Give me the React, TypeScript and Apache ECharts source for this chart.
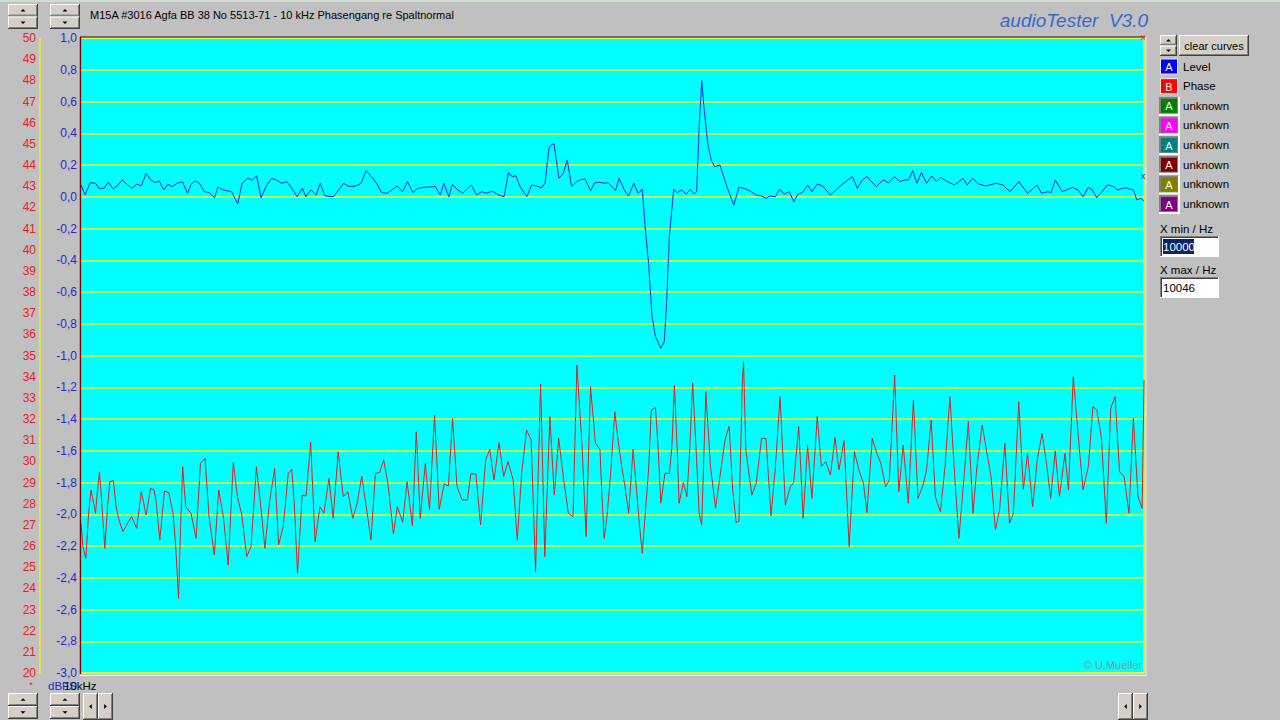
import React, { useEffect, useRef } from "react";
import * as echarts from "echarts";

const TITLE = "M15A #3016 Agfa BB 38 No 5513-71 - 10 kHz Phasengang re Spaltnormal";
const BRAND = "audioTester  V3.0";
const COPYRIGHT = "\u00A9 U.Mueller";
const F_START = 10000;
const F_END = 10046;
const LEVEL_MIN = -3;
const LEVEL_MAX = 1;
const LEVEL_STEP = 0.2;
const DB_MIN = 20;
const DB_MAX = 50;
const DB_STEP = 1;

// Level curve (blue): frequency offset in Hz from 10000, value
const levelHz = [
  0.00, 0.18, 0.40, 0.63, 0.78, 1.00, 1.18, 1.40, 1.60, 1.78,
  2.00, 2.19, 2.42, 2.61, 2.82, 3.02, 3.21, 3.39, 3.58, 3.76,
  3.95, 4.16, 4.39, 4.61, 4.76, 4.95, 5.15, 5.33, 5.55, 5.78,
  5.92, 6.15, 6.52, 6.78, 6.97, 7.22, 7.42, 7.60, 7.79, 8.01,
  8.24, 8.46, 8.68, 8.91, 9.13, 9.35, 9.58, 9.73, 9.95, 10.18,
  10.35, 10.55, 10.92, 11.15, 11.37, 11.60, 11.89, 12.12, 12.34, 12.57,
  12.79, 13.01, 13.24, 13.46, 13.68, 13.91, 14.13, 14.36, 14.58, 14.88,
  15.33, 15.55, 15.70, 15.92, 16.07, 16.30, 16.52, 16.74, 16.89, 17.12,
  17.34, 17.56, 17.79, 18.09, 18.31, 18.50, 18.65, 18.82, 19.00, 19.29,
  19.50, 19.72, 19.93, 20.08, 20.25, 20.37, 20.47, 20.68, 20.87, 21.04,
  21.23, 21.45, 21.59, 21.81, 22.05, 22.24, 22.46, 22.67, 22.82, 23.13,
  23.28, 23.51, 23.70, 23.92, 24.11, 24.29, 24.41, 24.56, 24.71, 24.86,
  25.09, 25.24, 25.34, 25.46, 25.65, 25.80, 25.99, 26.19, 26.37, 26.52,
  26.64, 26.75, 26.86, 26.97, 27.12, 27.27, 27.42, 27.65, 27.95, 28.25,
  28.47, 28.70, 28.93, 29.22, 29.45, 29.64, 29.83, 30.05, 30.23, 30.43,
  30.65, 30.84, 31.03, 31.22, 31.45, 31.63, 31.86, 32.09, 32.43, 32.83,
  33.18, 33.39, 33.59, 33.81, 34.01, 34.41, 34.72, 34.94, 35.21, 35.42,
  35.66, 35.82, 35.99, 36.17, 36.37, 36.59, 36.82, 37.02, 37.19, 37.50,
  37.80, 38.17, 38.35, 38.58, 38.85, 39.15, 39.60, 39.90, 40.20, 40.58,
  40.96, 41.38, 41.56, 41.86, 41.98, 42.16, 42.46, 42.91, 43.14, 43.36,
  43.59, 43.74, 43.96, 44.42, 44.64, 44.87, 45.17, 45.54, 45.69, 45.85, 46.00,
];
const levelValues = [
  0.074, 0.011, 0.089, 0.085, 0.053, 0.053, 0.091, 0.049, 0.074, 0.106,
  0.078, 0.053, 0.080, 0.068, 0.148, 0.106, 0.089, 0.099, 0.043, 0.078,
  0.064, 0.085, 0.095, 0.022, 0.078, 0.101, 0.080, 0.032, 0.026, -0.006,
  0.060, 0.043, 0.032, -0.046, 0.085, 0.116, 0.106, 0.131, -0.006, 0.064,
  0.116, 0.106, 0.085, 0.095, 0.053, 0.000, 0.053, 0.000, 0.043, 0.011,
  0.085, 0.006, 0.000, 0.043, 0.085, 0.064, 0.068, 0.085, 0.164, 0.127,
  0.085, 0.026, 0.022, 0.043, 0.068, 0.032, 0.095, 0.026, 0.053, 0.060,
  0.064, 0.011, 0.085, 0.000, 0.078, 0.043, 0.022, 0.053, 0.074, 0.011,
  0.032, 0.022, 0.036, 0.011, 0.000, 0.154, 0.127, 0.132, 0.064, 0.000,
  0.074, 0.068, 0.057, 0.085, 0.305, 0.330, 0.332, 0.116, 0.148, 0.232,
  0.064, 0.095, 0.106, 0.112, 0.038, 0.089, 0.091, 0.085, 0.088, 0.038,
  0.116, 0.043, 0.005, 0.085, 0.022, 0.047, -0.188, -0.419, -0.755, -0.881,
  -0.955, -0.913, -0.671, -0.251, 0.047, 0.026, 0.043, 0.017, 0.047, 0.017,
  0.032, 0.441, 0.731, 0.546, 0.336, 0.232, 0.189, 0.200, 0.064, -0.052,
  0.059, 0.053, 0.038, 0.011, 0.005, -0.010, 0.005, 0.000, 0.047, 0.017,
  0.032, -0.031, 0.017, 0.026, 0.074, 0.032, 0.080, 0.068, 0.011, 0.064,
  0.106, 0.126, 0.053, 0.106, 0.126, 0.064, 0.106, 0.088, 0.126, 0.095,
  0.106, 0.106, 0.164, 0.085, 0.152, 0.085, 0.131, 0.095, 0.122, 0.095,
  0.074, 0.116, 0.074, 0.116, 0.080, 0.068, 0.085, 0.074, 0.032, 0.095,
  0.022, 0.074, 0.022, 0.032, 0.026, 0.106, 0.032, 0.059, 0.043, 0.000,
  0.059, 0.047, -0.006, 0.074, 0.068, 0.043, 0.057, 0.043, -0.020, -0.010, -0.025,
];

// Phase curve (red): frequency offset in Hz from 10000, value on the left scale
const phaseHz = [
  0.00, 0.08, 0.21, 0.33, 0.43, 0.52, 0.63, 0.70, 0.80, 0.90,
  1.03, 1.15, 1.25, 1.40, 1.52, 1.64, 1.82, 2.01, 2.19, 2.41,
  2.61, 2.82, 3.01, 3.16, 3.26, 3.41, 3.61, 3.80, 3.98, 4.10,
  4.22, 4.31, 4.40, 4.53, 4.76, 4.98, 5.17, 5.37, 5.54, 5.77,
  5.96, 6.17, 6.37, 6.59, 6.77, 6.96, 7.17, 7.36, 7.59, 7.75,
  7.96, 8.15, 8.38, 8.55, 8.75, 8.97, 9.12, 9.23, 9.37, 9.57,
  9.74, 9.94, 10.13, 10.34, 10.51, 10.73, 10.91, 11.13, 11.35, 11.55,
  11.76, 11.95, 12.15, 12.32, 12.55, 12.74, 12.92, 13.10, 13.29, 13.52,
  13.69, 13.92, 14.11, 14.34, 14.51, 14.68, 14.90, 15.08, 15.30, 15.50,
  15.72, 15.90, 16.08, 16.27, 16.49, 16.72, 16.87, 17.09, 17.29, 17.51,
  17.69, 17.87, 18.09, 18.29, 18.48, 18.70, 18.88, 19.07, 19.28, 19.48,
  19.67, 19.89, 20.07, 20.29, 20.48, 20.67, 20.89, 21.09, 21.29, 21.46,
  21.68, 21.86, 22.05, 22.26, 22.46, 22.53, 22.64, 22.76, 22.91, 23.10,
  23.24, 23.40, 23.54, 23.70, 23.89, 24.04, 24.16, 24.29, 24.41, 24.56,
  24.68, 24.86, 24.98, 25.09, 25.27, 25.46, 25.57, 25.68, 25.80, 25.88,
  26.07, 26.22, 26.34, 26.47, 26.62, 26.75, 26.86, 27.04, 27.24, 27.46,
  27.65, 27.87, 28.05, 28.20, 28.35, 28.47, 28.62, 28.67, 28.77, 29.03,
  29.22, 29.45, 29.64, 29.86, 30.05, 30.25, 30.48, 30.70, 30.84, 31.06,
  31.25, 31.44, 31.63, 31.86, 32.04, 32.23, 32.43, 32.63, 32.80, 33.02,
  33.24, 33.47, 33.66, 33.86, 34.01, 34.24, 34.44, 34.61, 34.82, 34.98,
  35.21, 35.39, 35.58, 35.80, 36.02, 36.22, 36.42, 36.59, 36.79, 36.97,
  37.19, 37.39, 37.60, 37.80, 37.99, 38.19, 38.40, 38.60, 38.77, 39.00,
  39.18, 39.38, 39.57, 39.75, 39.98, 40.18, 40.35, 40.58, 40.78, 40.96,
  41.18, 41.38, 41.59, 41.78, 41.96, 42.16, 42.34, 42.58, 42.73, 42.94,
  43.14, 43.36, 43.59, 43.79, 43.96, 44.16, 44.37, 44.56, 44.75, 44.94,
  45.14, 45.35, 45.54, 45.74, 45.92, 46.00,
];
const phaseValues = [
  -2.057, -2.204, -2.278, -1.994, -1.847, -1.910, -1.994, -1.868, -1.732, -1.931,
  -2.215, -1.952, -1.795, -1.788, -1.952, -2.036, -2.110, -2.057, -2.015, -2.089,
  -1.858, -2.005, -1.837, -1.847, -1.931, -2.162, -1.854, -1.864, -1.994, -2.204,
  -2.530, -2.078, -1.700, -1.952, -1.994, -2.152, -1.679, -1.648, -2.015, -2.257,
  -1.847, -2.026, -2.320, -1.673, -1.889, -2.005, -2.267, -2.204, -1.700, -1.910,
  -2.215, -1.931, -1.711, -2.194, -2.078, -1.742, -1.717, -1.931, -2.372, -1.879,
  -1.885, -1.547, -2.173, -1.952, -1.994, -1.774, -2.026, -1.606, -1.889, -1.858,
  -2.026, -1.931, -1.759, -1.931, -2.162, -1.742, -1.738, -1.658, -1.816, -2.124,
  -1.952, -2.051, -1.795, -2.072, -1.480, -2.026, -1.679, -1.973, -1.375, -1.969,
  -1.809, -1.822, -1.396, -1.826, -1.910, -1.910, -1.746, -1.746, -2.068, -1.658,
  -1.591, -1.784, -1.549, -1.763, -1.669, -1.784, -2.162, -1.742, -1.469, -1.532,
  -2.362, -1.179, -2.267, -1.385, -1.879, -1.522, -1.784, -1.994, -2.015, -1.060,
  -1.564, -2.141, -1.196, -1.553, -1.591, -1.847, -2.152, -2.015, -1.763, -1.354,
  -1.532, -1.700, -1.826, -1.994, -1.591, -1.847, -2.057, -2.246, -2.015, -1.721,
  -1.343, -1.327, -1.595, -1.931, -1.742, -1.742, -1.574, -1.186, -1.595, -1.931,
  -1.801, -1.889, -1.595, -1.171, -1.595, -1.994, -2.068, -1.228, -1.700, -1.963,
  -1.763, -1.532, -1.444, -1.847, -2.051, -2.047, -1.165, -1.039, -1.595, -1.879,
  -1.805, -1.522, -1.522, -2.011, -1.700, -1.259, -1.942, -1.826, -1.801, -1.448,
  -2.026, -1.564, -1.900, -1.385, -1.700, -1.669, -1.753, -1.516, -1.721, -1.537,
  -2.204, -1.606, -1.721, -1.805, -1.990, -1.522, -1.616, -1.679, -1.826, -1.784,
  -1.123, -1.858, -1.564, -1.931, -1.280, -1.900, -1.826, -1.721, -1.406, -1.889,
  -1.984, -1.700, -1.259, -1.742, -2.152, -1.805, -1.417, -1.994, -1.700, -1.438,
  -1.595, -1.763, -2.099, -1.973, -1.553, -2.057, -1.994, -1.291, -1.843, -1.616,
  -1.952, -1.658, -1.490, -1.679, -1.900, -1.600, -1.889, -1.616, -1.847, -1.133,
  -1.480, -1.847, -1.700, -1.322, -1.343, -1.522, -2.057, -1.333, -1.259, -1.732,
  -1.763, -1.994, -1.396, -1.889, -1.963, -1.154,
];

const legendLabels = ["Level", "Phase", "unknown", "unknown", "unknown", "unknown", "unknown", "unknown"];
const legendLetters = ["A", "B", "A", "A", "A", "A", "A", "A"];
const legendColors = ["#0000ff", "#ff0000", "#008000", "#ff00ff", "#008080", "#800000", "#808000", "#800080"];
const X_MIN_LABEL = "X min / Hz";
const X_MAX_LABEL = "X max / Hz";
const X_MIN_VALUE = "10000";
const X_MAX_VALUE = "10046";
const CLEAR_LABEL = "clear curves";
const Y_UNIT = "dBFS";
const X_LABEL = "10kHz";

const FF = '"Liberation Sans", Arial, Helvetica, sans-serif';
const BTN = "#d4d0c8";

function txt(x: number, y: number, text: string, o: any = {}) {
  return {
    type: "text", x, y, z: 100, silent: true,
    style: {
      text, fill: o.fill || "#000", fontSize: o.size || 11, fontFamily: FF,
      fontStyle: o.italic ? "italic" : "normal", align: o.align || "left", verticalAlign: "middle",
    },
  };
}
function ln(x1: number, y1: number, x2: number, y2: number, color: string, w = 1) {
  return { type: "line", z: 100, silent: true, shape: { x1, y1, x2, y2 }, style: { stroke: color, lineWidth: w } };
}
function rc(x: number, y: number, w: number, h: number, fill: string) {
  return { type: "rect", z: 100, silent: true, shape: { x, y, width: w, height: h }, style: { fill } };
}
function raised(x: number, y: number, w: number, h: number) {
  return [
    rc(x, y, w, h, BTN),
    ln(x, y + 0.5, x + w - 1, y + 0.5, "#ffffff"),
    ln(x + 0.5, y, x + 0.5, y + h - 1, "#ffffff"),
    ln(x, y + h - 0.5, x + w, y + h - 0.5, "#404040"),
    ln(x + w - 0.5, y, x + w - 0.5, y + h, "#404040"),
    ln(x + 1, y + h - 1.5, x + w - 1, y + h - 1.5, "#808080"),
    ln(x + w - 1.5, y + 1, x + w - 1.5, y + h - 1, "#808080"),
  ];
}
function arrow(cx: number, cy: number, dir: string) {
  const s = 2.5;
  let pts: number[][];
  if (dir === "up") pts = [[cx - s, cy + 1.3], [cx + s, cy + 1.3], [cx, cy - 1.3]];
  else if (dir === "down") pts = [[cx - s, cy - 1.3], [cx + s, cy - 1.3], [cx, cy + 1.3]];
  else if (dir === "left") pts = [[cx + 1.3, cy - s], [cx + 1.3, cy + s], [cx - 1.3, cy]];
  else pts = [[cx - 1.3, cy - s], [cx - 1.3, cy + s], [cx + 1.3, cy]];
  return { type: "polygon", z: 101, silent: true, shape: { points: pts }, style: { fill: "#000" } };
}
function spinner(x: number, y: number, w: number, h: number) {
  const hh = h / 2;
  return [
    ...raised(x, y, w, hh), arrow(x + w / 2, y + hh / 2, "up"),
    ...raised(x, y + hh, w, hh), arrow(x + w / 2, y + hh * 1.5, "down"),
  ];
}
function hButtons(x: number, y: number, w: number, h: number) {
  return [
    ...raised(x, y, w, h), arrow(x + w / 2, y + h / 2, "left"),
    ...raised(x + w, y, w, h), arrow(x + w * 1.5, y + h / 2, "right"),
  ];
}
function sunken(x: number, y: number, w: number, h: number) {
  return [
    rc(x, y, w, h, "#ffffff"),
    ln(x, y + 0.5, x + w, y + 0.5, "#808080"),
    ln(x + 0.5, y, x + 0.5, y + h, "#808080"),
    ln(x + 1, y + 1.5, x + w - 1, y + 1.5, "#404040"),
    ln(x + 1.5, y + 1, x + 1.5, y + h - 1, "#404040"),
    ln(x, y + h - 0.5, x + w, y + h - 0.5, "#ffffff"),
    ln(x + w - 0.5, y, x + w - 0.5, y + h, "#ffffff"),
  ];
}

function buildGraphics() {
  const g: any[] = [];
  g.push(rc(0, 0, 1280, 2, "#d0dcd0"));
  g.push(...spinner(8, 4, 30, 25));
  g.push(...spinner(50, 4, 30, 25));
  g.push(txt(90, 15, TITLE, { size: 11 }));
  g.push(txt(1148, 20, BRAND, { size: 19, italic: true, fill: "#3a68c8", align: "right" }));
  g.push(ln(80.5, 37, 80.5, 674, "#7a0000", 1.5));
  g.push(ln(80, 37, 1145, 37, "#300000", 1));
  g.push(ln(1146, 37, 1146, 676, "#f0f0f0", 1));
  g.push(ln(80, 675.5, 1147, 675.5, "#f0f0f0", 1));
  g.push(txt(1143, 37, "x", { size: 9, fill: "#ff2020", align: "center" }));
  g.push(txt(1143, 176, "x", { size: 9, fill: "#2030d0", align: "center" }));
  g.push(txt(1142, 665, COPYRIGHT, { size: 11, fill: "#6aa4a4", align: "right" }));
  g.push(txt(31, 685, "*", { size: 9, fill: "#e82020", align: "center" }));
  g.push(txt(48, 686, Y_UNIT, { size: 11.5, fill: "#2828c8" }));
  g.push(txt(64, 686, X_LABEL, { size: 11.5, fill: "#000" }));
  g.push(...spinner(8, 693, 30, 26));
  g.push(...spinner(50, 693, 30, 26));
  g.push(...hButtons(83, 693, 15, 27));
  g.push(...hButtons(1118, 693, 15, 27));
  g.push(...spinner(1160, 35, 17, 21));
  g.push(...raised(1179, 35, 70, 21));
  g.push(txt(1214, 45.5, CLEAR_LABEL, { size: 11, align: "center" }));
  for (let i = 0; i < legendLabels.length; i++) {
    const cy = 66.5 + i * 19.65;
    if (i >= 2) {
      g.push(rc(1159, cy - 9, 21, 19, "#ffffff"));
      g.push(rc(1159, cy - 9, 19, 17, "#808080"));
    } else {
      g.push(rc(1160, cy - 8, 18, 16, "#e4e4e4"));
    }
    g.push(rc(1161, cy - 7, 16, 14, legendColors[i]));
    g.push(txt(1169, cy + 0.5, legendLetters[i], { size: 11, fill: "#ffffff", align: "center" }));
    g.push(txt(1183, cy, legendLabels[i], { size: 11.5 }));
  }
  g.push(txt(1160, 229, X_MIN_LABEL, { size: 11.5 }));
  g.push(...sunken(1160, 236, 59, 21));
  g.push(rc(1163, 239, 31, 15, "#0a246a"));
  g.push(txt(1163, 246.5, X_MIN_VALUE, { size: 11.5, fill: "#ffffff" }));
  g.push(txt(1160, 270, X_MAX_LABEL, { size: 11.5 }));
  g.push(...sunken(1160, 277, 59, 21));
  g.push(txt(1163, 287.5, X_MAX_VALUE, { size: 11.5 }));
  return g;
}

function buildOption() {
  const levelData = levelHz.map((f, i) => [F_START + f, levelValues[i]]);
  const phaseData = phaseHz.map((f, i) => [F_START + f, phaseValues[i]]);
  return {
    animation: false,
    backgroundColor: "#c0c0c0",
    grid: {
      left: 81, top: 38, width: 1063, height: 635, show: true,
      backgroundColor: "#00ffff", borderColor: "#f0ff20", borderWidth: 1,
    },
    xAxis: { type: "value", min: F_START, max: F_END, show: false },
    yAxis: [
      {
        type: "value", min: LEVEL_MIN, max: LEVEL_MAX, interval: LEVEL_STEP, position: "left",
        axisLine: { show: false }, axisTick: { show: false },
        axisLabel: {
          color: "#2828c8", fontSize: 12, fontFamily: FF, margin: 4,
          formatter: (v: number) => (Math.abs(v) < 1e-9 ? 0 : v).toFixed(1).replace(".", ","),
        },
        splitLine: { show: true, lineStyle: { color: "#f0ff20", width: 1.5 } },
      },
      {
        type: "value", min: DB_MIN, max: DB_MAX, interval: DB_STEP, position: "left", offset: 41,
        axisLine: { show: true, lineStyle: { color: "#f0f020", width: 1.5 } },
        axisTick: { show: false },
        axisLabel: { color: "#e82020", fontSize: 12, fontFamily: FF, margin: 4 },
        splitLine: { show: false },
      },
    ],
    series: [
      {
        type: "line", name: "Phase", data: phaseData, yAxisIndex: 0, symbol: "none", silent: true,
        lineStyle: { color: "#e02020", width: 1 }, z: 3,
      },
      {
        type: "line", name: "Level", data: levelData, yAxisIndex: 0, symbol: "none", silent: true,
        lineStyle: { color: "#0a28f0", width: 1 }, z: 4,
      },
    ],
    graphic: buildGraphics(),
  };
}

export default function App() {
  const ref = useRef<HTMLDivElement>(null);
  useEffect(() => {
    if (!ref.current) return;
    const chart = echarts.init(ref.current, undefined, { renderer: "svg" });
    chart.setOption(buildOption() as any);
    return () => chart.dispose();
  }, []);
  return (
    <div
      ref={ref}
      style={{ position: "absolute", left: 0, top: 0, width: 1280, height: 720 }}
    />
  );
}
